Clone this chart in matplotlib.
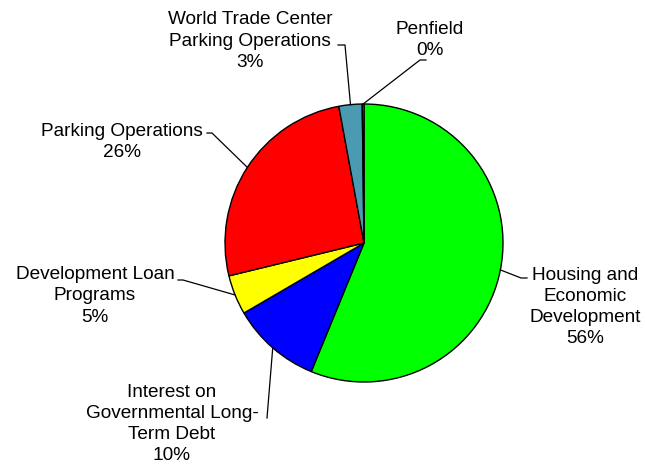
import numpy as np
import matplotlib.pyplot as plt

labels = ['Housing and\nEconomic\nDevelopment', 'Interest on\nGovernmental Long-\nTerm Debt',
          'Development Loan\nPrograms', 'Parking Operations', 'World Trade Center\nParking Operations', 'Penfield']
pct_labels = ['56%', '10%', '5%', '26%', '3%', '0%']
values = [56.2, 10.4, 4.6, 25.9, 2.7, 0.2]
colors = ['#00FF00', '#0000FF', '#FFFF00', '#FF0000', '#4A9BB2', '#4A9BB2']

# layout (pixel coords, y up)
W, H = 645, 468
cx, cy, R = 364, H - 243, 139
text_pos = [(585, H - 307), (172, H - 424), (95, H - 296), (122, H - 142), (250, H - 41), (430, H - 40)]
elbow = [(521, H - 278), (267, H - 418), (183, H - 280), (212, H - 133), (345, H - 45), (420, H - 60)]
tick_dx = [6, 0, -5, -5, -7, 6]

plt.rcParams['font.family'] = ['Liberation Sans', 'DejaVu Sans']
fig = plt.figure(figsize=(6.45, 4.68), dpi=100)
ax = fig.add_axes([0, 0, 1, 1])
wedges, _ = ax.pie(values, colors=colors, startangle=90, counterclock=False, center=(cx, cy), radius=R,
                   wedgeprops=dict(edgecolor='black', linewidth=1.0))
ax.set_xlim(0, W)
ax.set_ylim(0, H)
ax.set_aspect('equal')
ax.axis('off')

for w, lab, p, tp, el, dx in zip(wedges, labels, pct_labels, text_pos, elbow, tick_dx):
    mid = np.deg2rad((w.theta1 + w.theta2) / 2)
    ex, ey = cx + R * np.cos(mid), cy + R * np.sin(mid)
    ax.plot([ex, el[0], el[0] + dx], [ey, el[1], el[1]], color='black', lw=0.9)
    ax.text(tp[0], tp[1], lab + '\n' + p, ha='center', va='center', fontsize=13.7, linespacing=1.33)

fig.savefig('out.png', dpi=100)
